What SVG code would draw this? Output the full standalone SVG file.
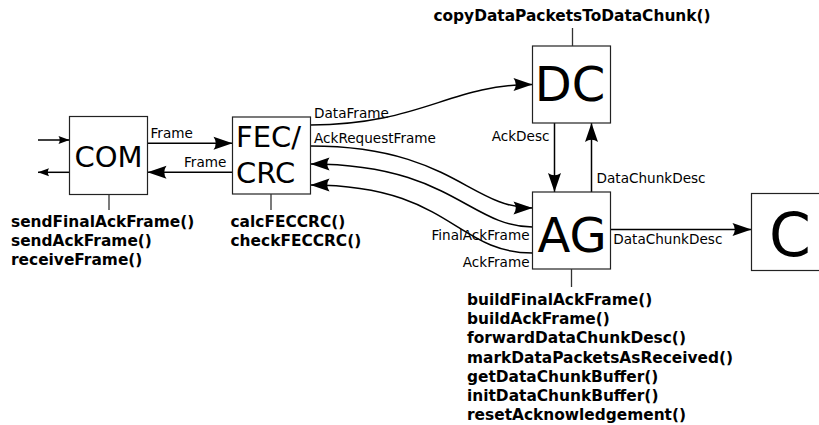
<svg xmlns="http://www.w3.org/2000/svg" width="819" height="425" viewBox="0 0 819 425">
  <style>
    .box { fill: #ffffff; stroke: #222222; stroke-width: 1.2; }
    .stem { stroke: #333333; stroke-width: 1.3; fill: none; }
    .big { font-family: "DejaVu Sans", sans-serif; fill: #000000; }
    .lbl { font-family: "DejaVu Sans", sans-serif; font-size: 13.6px; fill: #000000; }
    .fn { font-family: "DejaVu Sans", sans-serif; font-size: 15.4px; font-weight: bold; fill: #000000; }
    .edge { stroke: #000000; stroke-width: 1.5; fill: none; }
    .big-head { marker-end: url(#head); }
    .small-head { marker-end: url(#headSmall); }
  </style>
  <defs>
    <marker id="head" markerUnits="userSpaceOnUse" viewBox="-20 -7 21 14" refX="0" refY="0" markerWidth="21" markerHeight="14" orient="auto">
      <path d="M0,0 L-19,-6.5 Q-14.5,0 -19,6.5 Z" fill="#000000"/>
    </marker>
    <marker id="headSmall" markerUnits="userSpaceOnUse" viewBox="-12 -5 13 10" refX="0" refY="0" markerWidth="13" markerHeight="10" orient="auto">
      <path d="M0,0 L-11,-4 Q-8.5,0 -11,4 Z" fill="#000000"/>
    </marker>
  </defs>

  <!-- connectors -->
  <g id="connectors">
    <!-- external in/out of COM -->
    <line class="edge small-head" x1="38" y1="140" x2="69.5" y2="140"/>
    <line class="edge small-head" x1="69.5" y1="172.3" x2="38" y2="172.3"/>
    <!-- COM <-> FEC/CRC -->
    <line class="edge big-head" x1="147.5" y1="143.3" x2="232.5" y2="143.3"/>
    <text class="lbl" x="150.5" y="138.3">Frame</text>
    <line class="edge big-head" x1="232.5" y1="172.3" x2="147.5" y2="172.3"/>
    <text class="lbl" x="184" y="167.3">Frame</text>
    <!-- FEC/CRC -> DC -->
    <path class="edge big-head" d="M310.5,125 C420,125 450,84.5 532.5,84.5"/>
    <text class="lbl" x="314" y="118.3">DataFrame</text>
    <!-- FEC/CRC -> AG -->
    <path class="edge big-head" d="M310.5,146 C450,146 470,208 532.5,208"/>
    <text class="lbl" x="314" y="143.3">AckRequestFrame</text>
    <!-- AG -> FEC/CRC -->
    <path class="edge big-head" d="M532.5,227 C470,227 450,164 310.5,164"/>
    <text class="lbl" x="529.5" y="240" text-anchor="end">FinalAckFrame</text>
    <path class="edge big-head" d="M532.5,253 C455,253 450,185 310.5,185"/>
    <text class="lbl" x="529.5" y="266.5" text-anchor="end">AckFrame</text>
    <!-- DC <-> AG -->
    <line class="edge big-head" x1="554.5" y1="123" x2="554.5" y2="192"/>
    <text class="lbl" x="549.5" y="140.5" text-anchor="end">AckDesc</text>
    <line class="edge big-head" x1="591.5" y1="192" x2="591.5" y2="123"/>
    <text class="lbl" x="596.5" y="182.5">DataChunkDesc</text>
    <!-- AG -> C -->
    <line class="edge big-head" x1="610.5" y1="229.5" x2="751.5" y2="229.5"/>
    <text class="lbl" x="613.3" y="244">DataChunkDesc</text>
  </g>

  <!-- COM -->
  <g id="node-com">
    <rect class="box" x="69.5" y="116.5" width="78" height="78"/>
    <text class="big" x="108.5" y="166.5" font-size="29" text-anchor="middle">COM</text>
    <line class="stem" x1="109" y1="194.5" x2="109" y2="210"/>
    <text class="fn" x="11" y="227">sendFinalAckFrame()</text>
    <text class="fn" x="11" y="246.2">sendAckFrame()</text>
    <text class="fn" x="11" y="265.4">receiveFrame()</text>
  </g>

  <!-- FEC/CRC -->
  <g id="node-fec">
    <rect class="box" x="232.5" y="117" width="78" height="77"/>
    <text class="big" x="236" y="146.5" font-size="29">FEC/</text>
    <text class="big" x="236" y="182.5" font-size="29">CRC</text>
    <line class="stem" x1="271" y1="194" x2="271" y2="210"/>
    <text class="fn" x="230.5" y="227">calcFECCRC()</text>
    <text class="fn" x="230.5" y="246.2">checkFECCRC()</text>
  </g>

  <!-- DC -->
  <g id="node-dc">
    <rect class="box" x="532.5" y="46" width="78" height="77"/>
    <text class="big" x="570" y="101" font-size="48" text-anchor="middle">DC</text>
    <line class="stem" x1="572.5" y1="28" x2="572.5" y2="46"/>
    <text class="fn" x="572" y="21" text-anchor="middle">copyDataPacketsToDataChunk()</text>
  </g>

  <!-- AG -->
  <g id="node-ag">
    <rect class="box" x="532.5" y="192" width="78" height="77"/>
    <text class="big" x="572" y="252" font-size="48" text-anchor="middle">AG</text>
    <line class="stem" x1="571.5" y1="269" x2="571.5" y2="287"/>
    <text class="fn" x="467" y="305">buildFinalAckFrame()</text>
    <text class="fn" x="467" y="324.2">buildAckFrame()</text>
    <text class="fn" x="467" y="343.4">forwardDataChunkDesc()</text>
    <text class="fn" x="467" y="362.6">markDataPacketsAsReceived()</text>
    <text class="fn" x="467" y="381.8">getDataChunkBuffer()</text>
    <text class="fn" x="467" y="401">initDataChunkBuffer()</text>
    <text class="fn" x="467" y="420.2">resetAcknowledgement()</text>
  </g>

  <!-- C -->
  <g id="node-c">
    <rect class="box" x="751.5" y="193.5" width="78" height="77"/>
    <text class="big" x="790" y="256" font-size="60" text-anchor="middle">C</text>
  </g>
</svg>
